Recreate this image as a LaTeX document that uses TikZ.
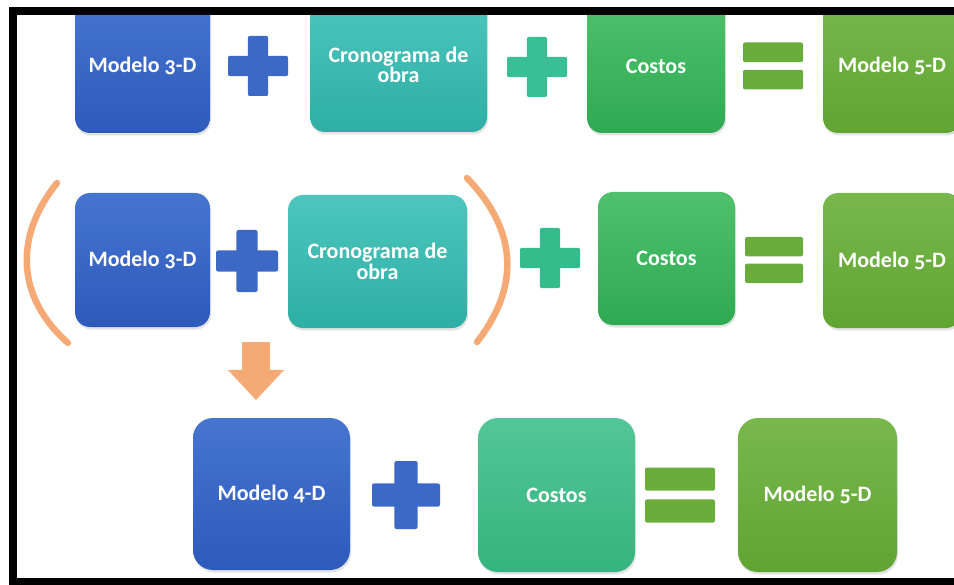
\documentclass[tikz,border=0pt]{standalone}
\usepackage{fontspec}
\setmainfont{Carlito}[Numbers=OldStyle]
\usetikzlibrary{shadows,arrows.meta,calc}
\definecolor{blueT}{RGB}{70,117,208}
\definecolor{blueB}{RGB}{46,90,188}
\definecolor{tealT}{RGB}{76,198,190}
\definecolor{tealB}{RGB}{46,174,164}
\definecolor{greenT}{RGB}{80,192,108}
\definecolor{greenB}{RGB}{46,170,82}
\definecolor{tgreenT}{RGB}{82,198,152}
\definecolor{tgreenB}{RGB}{52,180,126}
\definecolor{oliveT}{RGB}{120,184,76}
\definecolor{oliveB}{RGB}{96,164,50}
\definecolor{plusblue}{RGB}{60,104,198}
\definecolor{plusgreen}{RGB}{58,190,150}
\definecolor{plusgreenb}{RGB}{52,188,140}
\definecolor{eqgreen}{RGB}{106,172,60}
\definecolor{orangec}{RGB}{245,170,118}
\tikzset{
  box/.style 2 args={rounded corners=15bp, inner sep=0pt, outer sep=0pt,
    top color=#1, bottom color=#2, text=white, align=center,
    font=\bfseries\fontsize{22bp}{20.5bp}\selectfont,
    drop shadow={opacity=0.22, shadow xshift=1bp, shadow yshift=-2.5bp}},
  plussign/.style 2 args={minimum size=#1, inner sep=0pt, outer sep=0pt,
    path picture={
      \coordinate (@sw) at (path picture bounding box.south west);
      \coordinate (@ne) at (path picture bounding box.north east);
      \coordinate (@a) at ($(@sw)!0.33!(@ne)$);
      \coordinate (@b) at ($(@sw)!0.67!(@ne)$);
      \fill[#2, rounded corners=2bp] (@sw |- @a) rectangle (@ne |- @b);
      \fill[#2, rounded corners=2bp] (@a |- @sw) rectangle (@b |- @ne);
    }},
  equalsign/.style n args={3}{minimum width=#1, minimum height=#2, inner sep=0pt, outer sep=0pt,
    path picture={
      \coordinate (@sw) at (path picture bounding box.south west);
      \coordinate (@ne) at (path picture bounding box.north east);
      \coordinate (@a) at ($(@sw)!0.42!(@ne)$);
      \coordinate (@b) at ($(@sw)!0.58!(@ne)$);
      \fill[#3, rounded corners=2bp] (@sw) rectangle (@ne |- @a);
      \fill[#3, rounded corners=2bp] (@sw |- @b) rectangle (@ne);
    }},
  paren/.style={draw=orangec, line width=6.5bp, line cap=round},
}
\begin{document}
\begin{tikzpicture}[x=1bp,y=-1bp]
\useasboundingbox (0,0) rectangle (954,585);
\fill[white] (0,0) rectangle (954,585);
\begin{scope}
\clip (17,15) rectangle (954,578);
% row 1
\node[box={blueT}{blueB}, minimum width=135bp, minimum height=134bp] (m3a) at (142.5,66) {Modelo 3-D};
\node[plussign={60bp}{plusblue}] (p1a) at (258,66) {};
\node[box={tealT}{tealB}, minimum width=177bp, minimum height=134bp] (cra) at (398.5,65) {Cronograma de\\obra};
\node[plussign={60bp}{plusgreen}] (p2a) at (537,67) {};
\node[box={greenT}{greenB}, minimum width=138bp, minimum height=134bp] (coa) at (656,66) {Costos};
\node[equalsign={60bp}{47bp}{eqgreen}] (eqa) at (773,66) {};
\node[box={oliveT}{oliveB}, minimum width=138bp, minimum height=134bp] (m5a) at (892,66) {Modelo 5-D};
% row 2
\node[box={blueT}{blueB}, minimum width=135bp, minimum height=134bp] (m3b) at (142.5,260) {Modelo 3-D};
\node[plussign={62bp}{plusblue}] (p1b) at (247,261) {};
\node[box={tealT}{tealB}, minimum width=179bp, minimum height=133bp] (crb) at (377.5,261.5) {Cronograma de\\obra};
\node[plussign={60bp}{plusgreenb}] (p2b) at (550,258) {};
\node[box={greenT}{greenB}, minimum width=137bp, minimum height=133bp] (cob) at (666.5,258.5) {Costos};
\node[equalsign={58bp}{46bp}{eqgreen}] (eqb) at (774,260) {};
\node[box={oliveT}{oliveB}, minimum width=138bp, minimum height=135bp] (m5b) at (892,260.5) {Modelo 5-D};
\path[paren] (57,183) .. controls (15,235) and (15,296) .. (68,343);
\path[paren] (467,178) .. controls (519,232) and (519,288) .. (477,342);
% row 3
\node[box={blueT}{blueB}, rounded corners=20bp, minimum width=157bp, minimum height=152bp] (m4) at (271.5,494) {Modelo 4-D};
\node[plussign={68bp}{plusblue}] (p1c) at (406,495) {};
\node[box={tgreenT}{tgreenB}, rounded corners=20bp, minimum width=157bp, minimum height=154bp] (coc) at (556.5,495) {Costos};
\node[equalsign={70bp}{55bp}{eqgreen}] (eqc) at (680,495) {};
\node[box={oliveT}{oliveB}, rounded corners=20bp, minimum width=159bp, minimum height=154bp] (m5c) at (817.5,495) {Modelo 5-D};
\coordinate (arrtop) at (256,342);
\draw[orangec, line width=28bp, -{Triangle[length=30bp, width=56bp, line width=0pt]}, shorten >=18bp] (arrtop) -- (arrtop |- m4.north);
\end{scope}
% frame
\fill[black] (9,7) rectangle (954,15);
\fill[black] (9,7) rectangle (17,585);
\fill[black] (9,578) rectangle (954,585);
\end{tikzpicture}
\end{document}
